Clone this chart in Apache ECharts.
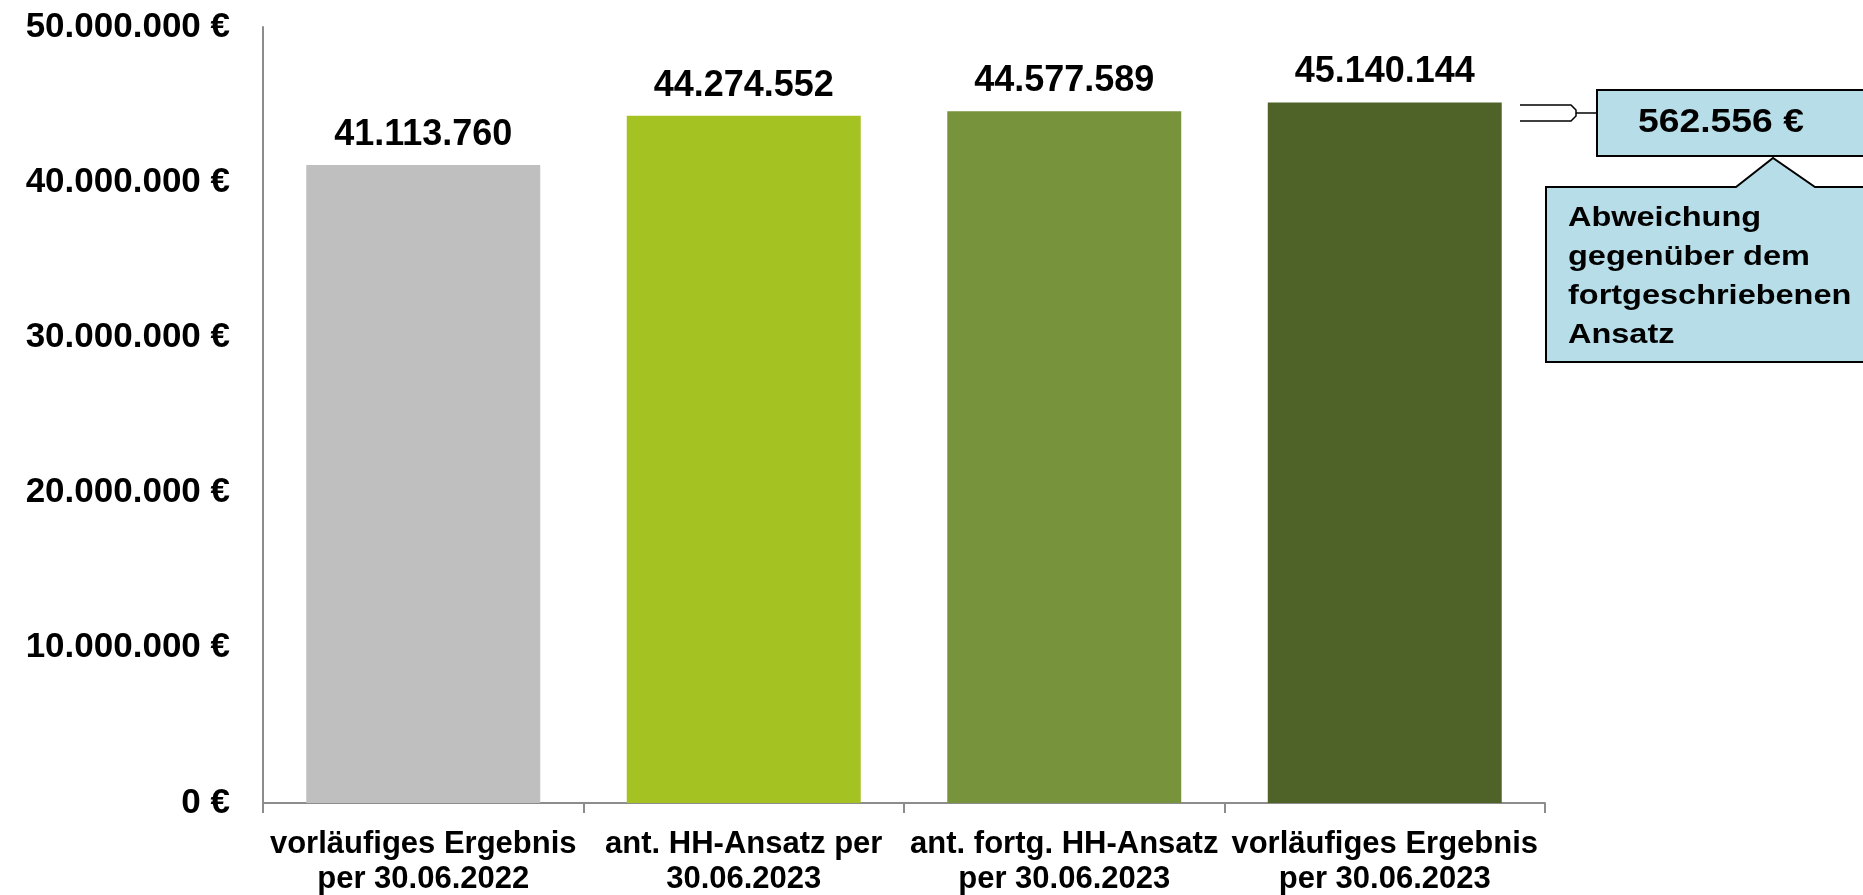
<!DOCTYPE html>
<html>
<head>
<meta charset="utf-8">
<script src="https://cdn.jsdelivr.net/npm/echarts@6/dist/echarts.min.js"></script>
<style>
html,body{margin:0;padding:0;background:#fff;}
#main{width:1863px;height:895px;}
</style>
</head>
<body>
<div id="main"></div>
<script>
const categories = [
  "vorläufiges Ergebnis\nper 30.06.2022",
  "ant. HH-Ansatz per\n30.06.2023",
  "ant. fortg. HH-Ansatz\nper 30.06.2023",
  "vorläufiges Ergebnis\nper 30.06.2023"
];
const values = [41113760, 44274552, 44577589, 45140144];
const barColors = ["#BFBFBF", "#A4C221", "#77933C", "#4F6228"];
const yTicks = [0, 10000000, 20000000, 30000000, 40000000, 50000000];
const calloutValue = "562.556 €";
const calloutText = ["Abweichung", "gegenüber dem", "fortgeschriebenen", "Ansatz"];

const FONT = '"Liberation Sans", Arial, sans-serif';
function de(n){ return String(Math.round(n)).replace(/\B(?=(\d{3})+(?!\d))/g, "."); }

const chart = echarts.init(document.getElementById('main'));
const textLines = calloutText.map((t, i) => ({
  type: 'text', x: 1568, y: 218 + i * 39, scaleX: 1.16,
  style: { text: t, font: 'bold 28px ' + FONT, fill: '#000', verticalAlign: 'middle' }
}));
chart.setOption({
  animation: false,
  grid: { left: 263, right: 318, top: 27, bottom: 92, containLabel: false, outerBoundsMode: 'none' },
  xAxis: {
    type: 'category', data: categories,
    axisLine: { lineStyle: { color: '#8C8C8C', width: 2 } },
    axisTick: { show: true, length: 10, lineStyle: { color: '#8C8C8C', width: 2 } },
    axisLabel: { interval: 0, color: '#000', fontFamily: FONT, fontWeight: 'bold', fontSize: 31, lineHeight: 35, margin: 24 }
  },
  yAxis: {
    type: 'value', min: 0, max: 50000000, interval: 10000000,
    axisLine: { show: true, lineStyle: { color: '#8C8C8C', width: 2 } },
    axisTick: { show: false },
    splitLine: { show: false },
    axisLabel: { color: '#000', fontFamily: FONT, fontWeight: 'bold', fontSize: 35, margin: 33,
      formatter: v => yTicks.includes(v) ? de(v) + ' €' : '' }
  },
  series: [{
    type: 'bar', barWidth: '73%',
    data: values.map((v, i) => ({ value: v, itemStyle: { color: barColors[i] } })),
    label: { show: true, position: 'top', distance: 12, color: '#000', fontFamily: FONT, fontWeight: 'bold', fontSize: 36,
      formatter: p => de(p.value) }
  }],
  graphic: [
    { type: 'polyline', shape: { points: [[1520,105],[1571,105],[1576,110],[1576,116],[1571,121],[1520,121]] },
      style: { stroke: '#000', lineWidth: 1.5, fill: null } },
    { type: 'line', shape: { x1: 1576, y1: 113, x2: 1597, y2: 113 }, style: { stroke: '#000', lineWidth: 1.5 } },
    { type: 'rect', shape: { x: 1597, y: 90, width: 300, height: 66 },
      style: { fill: '#B7DEE8', stroke: '#000', lineWidth: 2 } },
    { type: 'text', x: 1638, y: 123, scaleX: 1.13, style: { text: calloutValue, font: 'bold 33px ' + FONT, fill: '#000', verticalAlign: 'middle' } },
    { type: 'polygon', shape: { points: [[1546,187],[1736,187],[1773,158],[1815,187],[1900,187],[1900,362],[1546,362]] },
      style: { fill: '#B7DEE8', stroke: '#000', lineWidth: 2 } }
  ].concat(textLines)
});
</script>
</body>
</html>
